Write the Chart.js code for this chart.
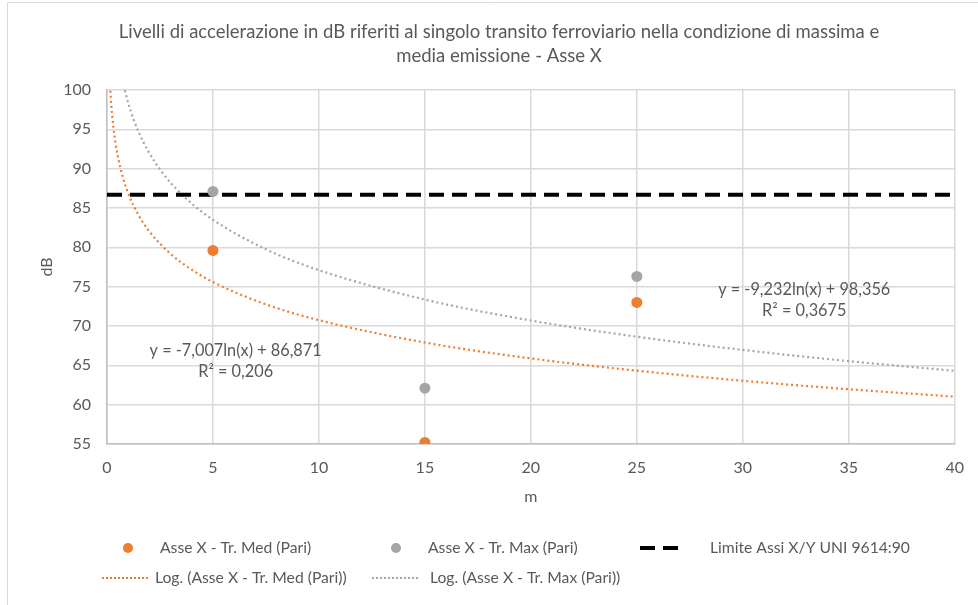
<!DOCTYPE html>
<html>
<head>
<meta charset="utf-8">
<script src="https://cdn.jsdelivr.net/npm/chart.js@4.4.1/dist/chart.umd.min.js"></script>
<style>
html,body{margin:0;padding:0;background:#fff;}
#wrap{width:978px;height:605px;position:relative;}
canvas{display:block;}
</style>
</head>
<body>
<div id="wrap"><canvas id="c" width="978" height="605"></canvas></div>
<script>
// ---- Data ----
const titleLines = ["Livelli di accelerazione in dB riferiti al singolo transito ferroviario nella condizione di massima e", "media emissione - Asse X"];
const distances = [5, 15, 25];
const medValues = [79.6, 55.2, 73.0];
const maxValues = [87.1, 62.1, 76.3];
const limitX = [0, 40];
const limitValues = [86.7, 86.7];
// trendline readings (x, dB) as seen on the chart
const trendMedX = [0.155, 0.2, 0.3, 0.5, 0.75, 1, 1.5, 2, 3, 4, 5, 7.5, 10, 15, 20, 25, 30, 35, 40];
const trendMedY = [99.9, 98.15, 95.31, 91.73, 88.89, 86.87, 84.03, 82.01, 79.17, 77.16, 75.59, 72.75, 70.74, 67.90, 65.88, 64.32, 63.04, 61.96, 61.02];
const trendMaxX = [0.84, 1, 1.25, 1.5, 2, 2.5, 3, 4, 5, 7.5, 10, 15, 20, 25, 30, 35, 40];
const trendMaxY = [99.96, 98.36, 96.30, 94.61, 91.96, 89.90, 88.21, 85.56, 83.50, 79.75, 77.10, 73.36, 70.70, 68.64, 66.96, 65.53, 64.30];
const xTicks = [0, 5, 10, 15, 20, 25, 30, 35, 40];
const yTicks = [55, 60, 65, 70, 75, 80, 85, 90, 95, 100];
const seriesNames = ["Asse X - Tr. Med (Pari)", "Asse X - Tr. Max (Pari)", "Limite Assi X/Y UNI 9614:90", "Log. (Asse X - Tr. Med (Pari))", "Log. (Asse X - Tr. Max (Pari))"];
const eqMed = ["y = -7,007ln(x) + 86,871", "R² = 0,206"];
const eqMax = ["y = -9,232ln(x) + 98,356", "R² = 0,3675"];
const xTitle = "m";
const yTitle = "dB";

const ORANGE = "#ED7D31", GREY = "#A5A5A5", TXT = "#595959", GRID = "#D9D9D9";
const FONT = "Lato, 'Open Sans', sans-serif";

const pts = (xs, ys) => xs.map((x, i) => ({x: x, y: ys[i]}));

const datasets = [
  {label: seriesNames[0], data: pts(distances, medValues), showLine: false, pointRadius: 5.5, pointHoverRadius: 5.5, backgroundColor: ORANGE, borderColor: ORANGE, pointBorderWidth: 0, order: 1},
  {label: seriesNames[1], data: pts(distances, maxValues), showLine: false, pointRadius: 5.5, pointHoverRadius: 5.5, backgroundColor: GREY, borderColor: GREY, pointBorderWidth: 0, order: 1},
  {label: seriesNames[2], data: pts(limitX, limitValues), showLine: true, pointRadius: 0, borderColor: "#000", borderWidth: 4, borderDash: [15, 8], order: 2},
  {label: seriesNames[3], data: pts(trendMedX, trendMedY), showLine: true, pointRadius: 0, borderColor: ORANGE, borderWidth: 2.2, borderDash: [2, 3], cubicInterpolationMode: 'monotone', order: 3},
  {label: seriesNames[4], data: pts(trendMaxX, trendMaxY), showLine: true, pointRadius: 0, borderColor: GREY, borderWidth: 2.2, borderDash: [2, 3], cubicInterpolationMode: 'monotone', order: 3}
];

const extras = {
  id: 'extras',
  afterDraw(chart) {
    const ctx = chart.ctx;
    const xs = chart.scales.x, ys = chart.scales.y;
    ctx.save();
    // chart border
    ctx.strokeStyle = "#D9D9D9"; ctx.lineWidth = 1;
    ctx.beginPath(); ctx.moveTo(7.5, 605); ctx.lineTo(7.5, 2.5); ctx.lineTo(978, 2.5); ctx.stroke();
    ctx.textAlign = "center"; ctx.textBaseline = "middle"; ctx.fillStyle = TXT;
    // title
    ctx.font = "18.5px " + FONT;
    ctx.fillText(titleLines[0], 499, 32);
    ctx.fillText(titleLines[1], 499, 56);
    // y axis title
    ctx.save();
    ctx.font = "16px " + FONT;
    ctx.translate(47, (ys.top + ys.bottom) / 2);
    ctx.rotate(-Math.PI / 2);
    ctx.fillText(yTitle, 0, 0);
    ctx.restore();
    // equations
    ctx.font = "16.3px " + FONT;
    const mx = xs.getPixelForValue(6.07), my = ys.getPixelForValue(66.8);
    ctx.fillText(eqMed[0], mx, my); ctx.fillText(eqMed[1], mx, my + 21);
    const nx = xs.getPixelForValue(32.9), ny = ys.getPixelForValue(74.6);
    ctx.fillText(eqMax[0], nx, ny); ctx.fillText(eqMax[1], nx, ny + 21);
    // legend
    ctx.font = "15.7px " + FONT; ctx.textAlign = "left";
    const row1 = 548, row2 = 578;
    const items = [
      {type: 'dot', color: ORANGE, x: 128, y: row1, tx: 160, text: seriesNames[0]},
      {type: 'dot', color: GREY, x: 396, y: row1, tx: 428, text: seriesNames[1]},
      {type: 'dash', color: '#000', x: 640, y: row1, tx: 710, text: seriesNames[2]},
      {type: 'dot2', color: ORANGE, x: 102, y: row2, tx: 155, text: seriesNames[3]},
      {type: 'dot2', color: GREY, x: 372, y: row2, tx: 430, text: seriesNames[4]}
    ];
    items.forEach(it => {
      if (it.type === 'dot') {
        ctx.fillStyle = it.color; ctx.beginPath(); ctx.arc(it.x, it.y, 5, 0, Math.PI * 2); ctx.fill();
      } else if (it.type === 'dash') {
        ctx.strokeStyle = it.color; ctx.lineWidth = 4; ctx.setLineDash([15, 8]);
        ctx.beginPath(); ctx.moveTo(it.x, it.y); ctx.lineTo(it.x + 46, it.y); ctx.stroke(); ctx.setLineDash([]);
      } else {
        ctx.strokeStyle = it.color; ctx.lineWidth = 2; ctx.setLineDash([2, 2]);
        ctx.beginPath(); ctx.moveTo(it.x, it.y); ctx.lineTo(it.x + 48, it.y); ctx.stroke(); ctx.setLineDash([]);
      }
      ctx.fillStyle = TXT; ctx.fillText(it.text, it.tx, it.y);
    });
    ctx.restore();
  }
};

new Chart(document.getElementById('c'), {
  type: 'scatter',
  data: {datasets: datasets},
  options: {
    responsive: false,
    animation: false,
    layout: {padding: {left: 13, right: 21, top: 90, bottom: 95}},
    plugins: {
      legend: {display: false},
      tooltip: {enabled: false},
      title: {display: false}
    },
    scales: {
      x: {
        type: 'linear', min: 0, max: 40,
        afterBuildTicks: s => { s.ticks = xTicks.map(v => ({value: v})); },
        grid: {color: GRID, lineWidth: 1.5, drawTicks: false},
        border: {color: "#BFBFBF", width: 1.5},
        ticks: {color: TXT, font: {family: FONT, size: 16}, padding: 14, maxRotation: 0},
        title: {display: true, text: xTitle, color: TXT, font: {family: FONT, size: 16}, padding: {top: 0, bottom: 4}},
        afterFit: s => { s.height = 66; }
      },
      y: {
        type: 'linear', min: 55, max: 100,
        afterBuildTicks: s => { s.ticks = yTicks.map(v => ({value: v})); },
        grid: {color: GRID, lineWidth: 1.5, drawTicks: false},
        border: {color: "#BFBFBF", width: 1.5},
        ticks: {color: TXT, font: {family: FONT, size: 16}, padding: 16},
        title: {display: false},
        afterFit: s => { s.width = 94; }
      }
    }
  },
  plugins: [extras]
});
</script>
</body>
</html>
